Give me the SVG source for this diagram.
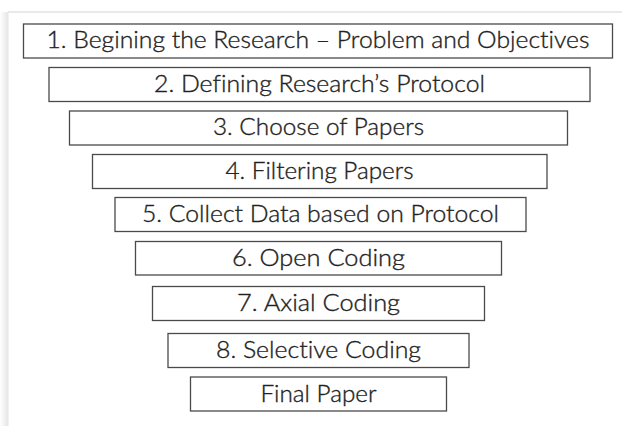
<svg xmlns="http://www.w3.org/2000/svg" width="622" height="426" viewBox="0 0 622 426">
  <style>
    .box { fill: #ffffff; stroke: #4a4a4a; stroke-width: 1.3; }
    .label { font-family: "Lato", "Open Sans", "Liberation Sans", sans-serif; font-weight: 300; font-size: 23.5px; fill: #222222; stroke: #222222; stroke-width: 0.35; text-anchor: middle; font-variant-ligatures: none; }
  </style>
  <defs>
    <linearGradient id="edgeShade" x1="0" y1="0" x2="1" y2="0">
      <stop offset="0" stop-color="#ffffff"/>
      <stop offset="1" stop-color="#e4e4e4"/>
    </linearGradient>
  </defs>

  <!-- page -->
  <rect x="0" y="0" width="622" height="426" fill="#ffffff"/>
  <rect x="0" y="12" width="8.5" height="414" fill="url(#edgeShade)"/>
  <line x1="8" y1="12" x2="622" y2="12" stroke="#e2e2e2" stroke-width="1.5"/>

  <!-- funnel of research steps -->
  <g id="step1">
    <rect class="box" x="23.5" y="24" width="589" height="34"/>
    <text class="label" x="318" y="48" textLength="543" lengthAdjust="spacingAndGlyphs">1. Begining the Research – Problem and Objectives</text>
  </g>
  <g id="step2">
    <rect class="box" x="49" y="67.5" width="541" height="34"/>
    <text class="label" x="319.5" y="91.5" textLength="331" lengthAdjust="spacingAndGlyphs">2. Defining Research’s Protocol</text>
  </g>
  <g id="step3">
    <rect class="box" x="69.5" y="111" width="498" height="34"/>
    <text class="label" x="318.5" y="135" textLength="211" lengthAdjust="spacingAndGlyphs">3. Choose of Papers</text>
  </g>
  <g id="step4">
    <rect class="box" x="92.5" y="154.5" width="454.5" height="34"/>
    <text class="label" x="319.5" y="178.5" textLength="188" lengthAdjust="spacingAndGlyphs">4. Filtering Papers</text>
  </g>
  <g id="step5">
    <rect class="box" x="115" y="197.5" width="411" height="34"/>
    <text class="label" x="320.5" y="221.5" textLength="357" lengthAdjust="spacingAndGlyphs">5. Collect Data based on Protocol</text>
  </g>
  <g id="step6">
    <rect class="box" x="135.5" y="241.5" width="366" height="33.5"/>
    <text class="label" x="318.5" y="265.5" textLength="173" lengthAdjust="spacingAndGlyphs">6. Open Coding</text>
  </g>
  <g id="step7">
    <rect class="box" x="152.5" y="286.5" width="332" height="34"/>
    <text class="label" x="318.5" y="310.5" textLength="163" lengthAdjust="spacingAndGlyphs">7. Axial Coding</text>
  </g>
  <g id="step8">
    <rect class="box" x="168" y="333.5" width="301" height="34"/>
    <text class="label" x="318.5" y="357.5" textLength="205" lengthAdjust="spacingAndGlyphs">8. Selective Coding</text>
  </g>
  <g id="final">
    <rect class="box" x="190.5" y="377" width="256" height="34"/>
    <text class="label" x="318.5" y="401.5" textLength="116" lengthAdjust="spacingAndGlyphs">Final Paper</text>
  </g>

  <!-- the steps are stacked without connectors -->
  <g id="connectors"/>
</svg>
